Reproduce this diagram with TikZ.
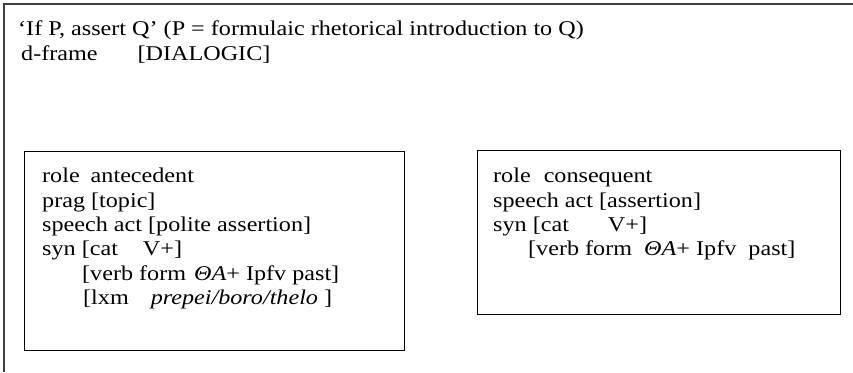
\documentclass[tikz,border=0pt]{standalone}
\usepackage{fontspec}
\setmainfont{Liberation Serif}[FakeStretch=1.15]
\tikzset{
  outerline/.style={line width=1.2bp,draw=black!75},
  framebox/.style={draw,line width=0.8bp,inner sep=0pt},
  fstext/.style={anchor=north west,inner sep=0pt,align=left,
    font=\fontsize{21bp}{24.4bp}\selectfont},
}
\begin{document}
\begin{tikzpicture}[x=1bp,y=1bp]
\useasboundingbox (0,0) rectangle (853,372);
%%
\draw [outerline] (4,0) -- (4,368) -- (853,368);
\node (head) at (18,351) [fstext] {`If P, assert Q' (P = formulaic rhetorical introduction to Q)\\
  \hspace*{3bp}d-frame\hspace{40bp}[DIALOGIC]};
%%
\node (antebox) at (214.5,121) [framebox,minimum width=381,minimum height=200] {};
\node (antetext) at (42,204) [fstext] {role\hspace{11bp}antecedent\\
  prag [topic]\\
  speech act [polite assertion]\\
  syn [cat\hspace{25bp}V+]\\
  \hspace*{40bp}[verb form\hspace{8bp}\textit{ΘA}+ Ipfv past]\\
  \hspace*{41bp}[lxm\hspace{22bp}\textit{prepei/boro/thelo} ]};
\node (consbox) at (659,139.5) [framebox,minimum width=364,minimum height=165] {};
\node (constext) at (493,204) [fstext] {role\hspace{13bp}consequent\\
  speech act [assertion]\\
  syn [cat\hspace{39bp}V+]\\
  \hspace*{35bp}[verb form\ \ \textit{ΘA}+ Ipfv\ \ past]};
%
\end{tikzpicture}
\end{document}
